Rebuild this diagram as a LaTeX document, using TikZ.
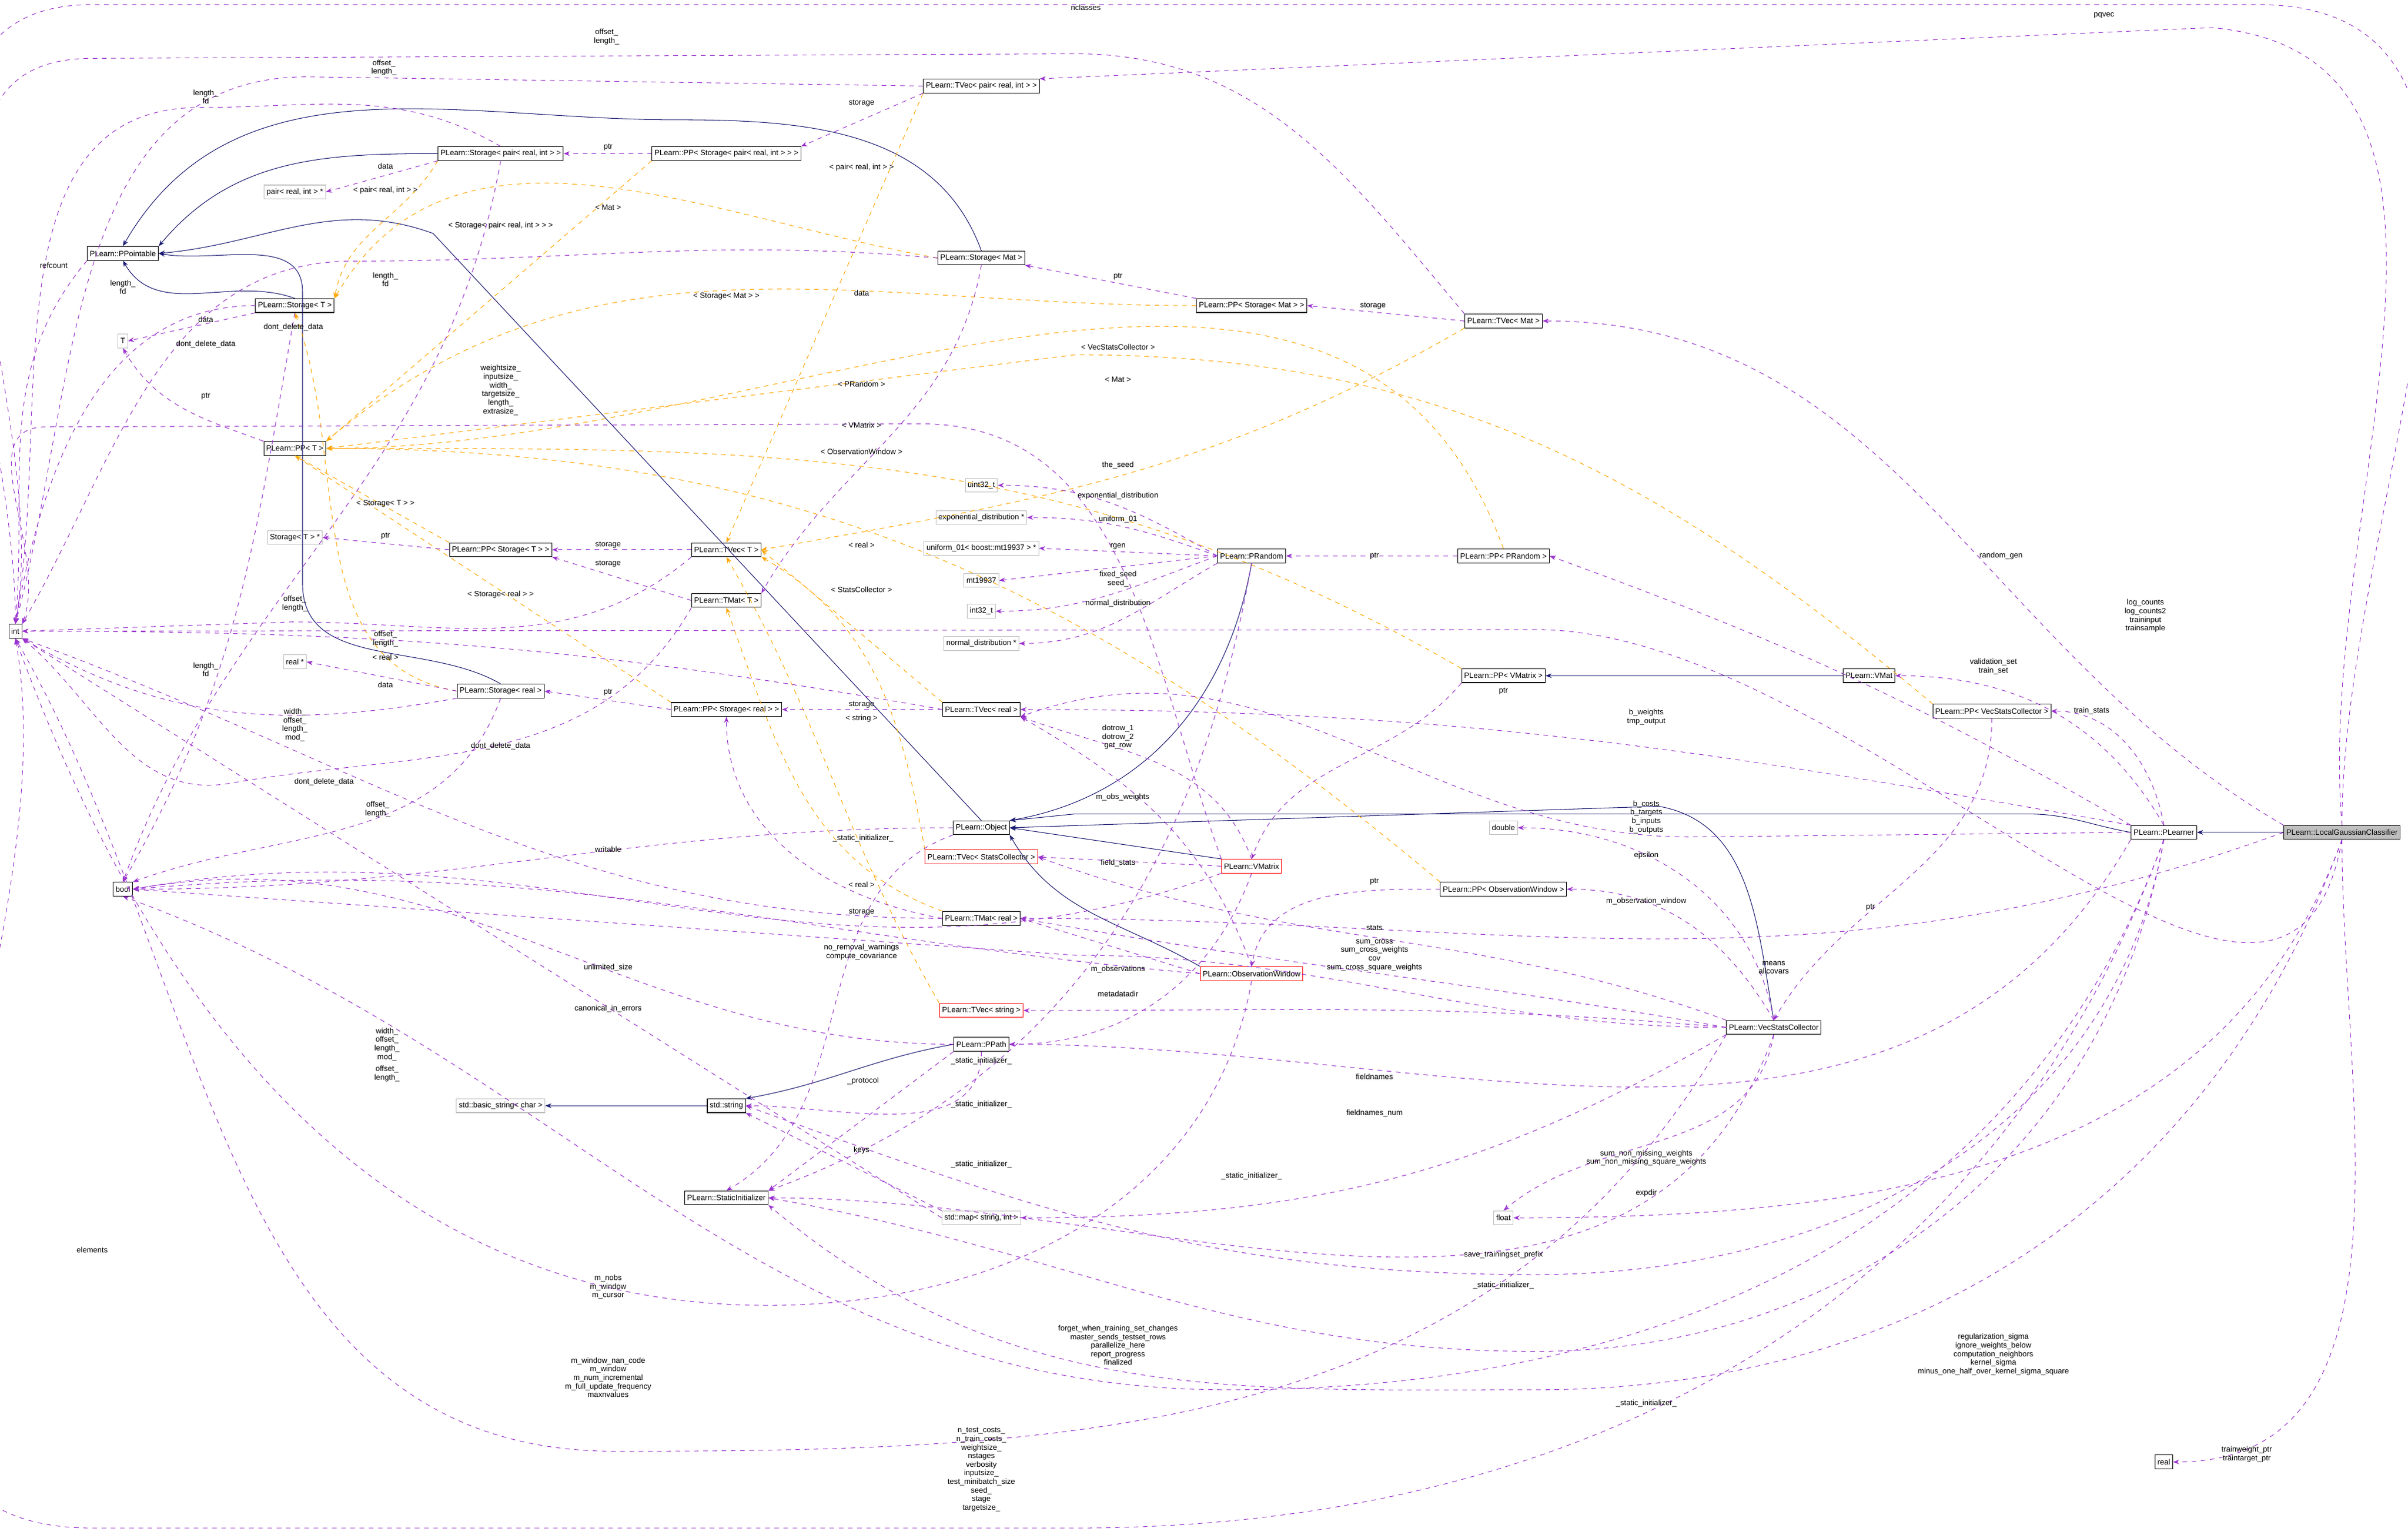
\documentclass[tikz,border=0pt]{standalone}
\usepackage{fontspec}
\setmainfont{Liberation Sans}
\usetikzlibrary{arrows.meta}
\definecolor{pur}{RGB}{154,50,205}
\definecolor{org}{RGB}{255,165,0}
\definecolor{nav}{RGB}{25,25,112}
\definecolor{gry}{RGB}{191,191,191}
\tikzset{
 cls/.style={draw=black,rectangle,inner sep=1.6pt,minimum height=9pt,font=\fontsize{5}{6}\selectfont},
 grn/.style={cls,draw=gry},
 rdn/.style={cls,draw=red},
 lbl/.style={font=\fontsize{5}{5.6}\selectfont,align=center,inner sep=0pt},
 mem/.style={draw=pur,dashed,-{Stealth[length=4pt,width=3pt]}},
 tpl/.style={draw=org,dashed,-{Stealth[length=4pt,width=3pt]}},
 inh/.style={draw=nav,-{Stealth[length=4pt,width=3pt]}},
}
\begin{document}
\begin{tikzpicture}[x=1pt,y=-1pt]
\useasboundingbox (0,0) rectangle (1568,999.5);
% nodes
\node[cls] (int) at (10,411) {int};
\node[cls] (bool) at (80,579) {bool};
\node[grn] (float) at (979,793) {float};
\node[grn] (double) at (979,539) {double};
\node[cls] (real) at (1409,952) {real};
\node[cls] (ppt) at (80,165) {PLearn::PPointable};
\node[cls] (stT) at (192,199) {PLearn::Storage< T >};
\node[grn] (T) at (80,222) {T};
\node[cls] (ppT) at (192,292) {PLearn::PP< T >};
\node[grn] (stTp) at (192,350) {Storage< T > *};
\node[grn] (realp) at (192,431) {real *};
\node[grn] (pairp) at (192,125) {pair< real, int > *};
\node[cls] (stpair) at (326,100) {PLearn::Storage< pair< real, int > >};
\node[cls] (ppstpair) at (473,100) {PLearn::PP< Storage< pair< real, int > > >};
\node[cls] (tvpair) at (639,56) {PLearn::TVec< pair< real, int > >};
\node[cls] (stmat) at (639,168) {PLearn::Storage< Mat >};
\node[cls] (ppstmat) at (815,199) {PLearn::PP< Storage< Mat > >};
\node[cls] (tvmat) at (979,209) {PLearn::TVec< Mat >};
\node[cls] (ppstT) at (326,358) {PLearn::PP< Storage< T > >};
\node[cls] (tvT) at (473,358) {PLearn::TVec< T >};
\node[cls] (tmT) at (473,391) {PLearn::TMat< T >};
\node[cls] (streal) at (326,450) {PLearn::Storage< real >};
\node[cls] (ppstreal) at (473,462) {PLearn::PP< Storage< real > >};
\node[cls] (tvreal) at (639,462) {PLearn::TVec< real >};
\node[grn] (u32) at (639,316) {uint32\_t};
\node[grn] (expd) at (639,337) {exponential\_distribution *};
\node[grn] (unif) at (639,357) {uniform\_01< boost::mt19937 > *};
\node[grn] (mt) at (639,378) {mt19937};
\node[grn] (i32) at (639,398) {int32\_t};
\node[grn] (nd) at (639,419) {normal\_distribution *};
\node[cls] (prand) at (815,362) {PLearn::PRandom};
\node[cls] (pprand) at (979,362) {PLearn::PP< PRandom >};
\node[cls] (ppvm) at (979,440) {PLearn::PP< VMatrix >};
\node[cls] (vmat) at (1217,440) {PLearn::VMat};
\node[cls] (ppvsc) at (1297,463) {PLearn::PP< VecStatsCollector >};
\node[cls] (obj) at (639,539) {PLearn::Object};
\node[rdn] (tvsc) at (639,558) {PLearn::TVec< StatsCollector >};
\node[rdn] (vmx) at (815,564) {PLearn::VMatrix};
\node[cls] (ppow) at (979,579) {PLearn::PP< ObservationWindow >};
\node[cls] (tmreal) at (639,598) {PLearn::TMat< real >};
\node[rdn] (ow) at (815,634) {PLearn::ObservationWindow};
\node[rdn] (tvstr) at (639,658) {PLearn::TVec< string >};
\node[cls] (ppath) at (639,680) {PLearn::PPath};
\node[grn] (bstr) at (326,720) {std::basic\_string< char >};
\node[cls] (str) at (473,720) {std::string};
\node[cls] (si) at (473,780) {PLearn::StaticInitializer};
\node[grn] (map) at (639,793) {std::map< string, int >};
\node[cls] (vsc) at (1155,669) {PLearn::VecStatsCollector};
\node[cls] (pl) at (1409,542) {PLearn::PLearner};
\node[cls,fill=gry] (lgc) at (1525,542) {PLearn::LocalGaussianClassifier};
% inheritance
\draw[inh] (stpair.west) to[out=180,in=50] (ppt.north east);
\draw[inh] (stT.north) to[out=160,in=-60] (ppt.south);
\draw[inh] (stmat.north) to[out=110,in=0] (440,78) to[out=180,in=60] (ppt.north);
\draw[inh] (streal.north) to[out=150,in=-90] (197,380) -- (197,190) to[out=90,in=-10] (ppt.east);
\draw[inh] (obj.north) -- (282,152) to[out=160,in=5] (ppt.east);
\draw[inh] (prand.south) to[out=-100,in=10] (obj.north east);
\draw[inh] (vmx.north west) -- (obj.east);
\draw[inh] (ow.north west) to[out=150,in=-60] (obj.south east);
\draw[inh] (vsc.north) to[out=100,in=-10] (1080,525) -- (obj.east);
\draw[inh] (pl.west) to[out=170,in=0] (1320,530) -- (700,530) -- (obj.north east);
\draw[inh] (lgc.west) -- (pl.east);
\draw[inh] (vmat.west) -- (ppvm.east);
\draw[inh] (str.west) -- (bstr.east);
\draw[inh] (ppath.west) to[out=190,in=10] (str.north east);
% templates
\draw[tpl] (stpair.south west) to[out=-120,in=80] (stT.north east);
\draw[tpl] (stmat.west) to[out=170,in=60] (stT.north east);
\draw[tpl] (streal.west) to[out=170,in=-70] (stT.south);
\draw[tpl] (ppstpair.south west) -- (ppT.north east);
\draw[tpl] (ppstmat.west) to[out=180,in=40] (ppT.north east);
\draw[tpl] (ppstT.north west) -- (ppT.south);
\draw[tpl] (ppstreal.north west) -- (ppT.south);
\draw[tpl] (pprand.north) to[out=110,in=0] (ppT.east);
\draw[tpl] (ppvm.north west) to[out=150,in=0] (ppT.east);
\draw[tpl] (ppow.north west) to[out=140,in=0] (ppT.east);
\draw[tpl] (ppvsc.north west) to[out=140,in=0] (700,231) -- (ppT.east);
\draw[tpl] (tvpair.south west) -- (tvT.north);
\draw[tpl] (tvmat.south west) to[out=-150,in=10] (tvT.east);
\draw[tpl] (tvreal.north west) -- (tvT.east);
\draw[tpl] (tvsc.north west) to[out=100,in=-30] (tvT.south east);
\draw[tpl] (tvstr.north west) to[out=120,in=-60] (tvT.south);
\draw[tpl] (tmreal.north west) to[out=160,in=-70] (tmT.south);
% members
\draw[mem] (lgc.north) to[out=90,in=0] (1470,3) -- (60,3) to[out=180,in=90] (int.north);
\draw[mem] (lgc.north) to[out=95,in=-5] (1440,18) -- (tvpair.north east);
\draw[mem] (tvmat.north west) to[out=130,in=0] (700,35) -- (60,38) to[out=180,in=80] (int.north);
\draw[mem] (tvpair.west) -- (200,50) to[out=180,in=75] (int.north);
\draw[mem] (stpair.north) to[out=150,in=0] (130,70) to[out=180,in=80] (int.north);
\draw[mem] (ppt.south west) to[out=-130,in=85] (int.north);
\draw[mem] (stT.west) to[out=180,in=80] (int.north);
\draw[mem] (stT.south west) -- (T.east);
\draw[mem] (stT.south) to[out=-100,in=60] (bool.north);
\draw[mem] (ppT.north west) to[out=160,in=-60] (T.south);
\draw[mem] (stpair.south west) -- (pairp.east);
\draw[mem] (stpair.south) to[out=-100,in=70] (bool.north);
\draw[mem] (ppstpair.west) -- (stpair.east);
\draw[mem] (tvpair.south west) -- (ppstpair.north east);
\draw[mem] (stmat.west) to[out=175,in=0] (230,170) to[out=180,in=60] (int.north east);
\draw[mem] (stmat.south) to[out=-100,in=60] (tmT.north east);
\draw[mem] (ppstmat.north west) -- (stmat.south east);
\draw[mem] (tvmat.west) -- (ppstmat.east);
\draw[mem] (ppstT.west) -- (stTp.east);
\draw[mem] (tvT.west) -- (ppstT.east);
\draw[mem] (tmT.west) -- (ppstT.south east);
\draw[mem] (tvT.south west) to[out=-140,in=0] (190,405) -- (int.east);
\draw[mem] (tmT.south west) to[out=-120,in=10] (150,510) to[out=190,in=-40] (int.south east);
\draw[mem] (streal.west) -- (realp.east);
\draw[mem] (streal.south west) to[out=190,in=-30] (int.south east);
\draw[mem] (streal.south) to[out=-110,in=20] (bool.north east);
\draw[mem] (ppstreal.west) -- (streal.east);
\draw[mem] (tvreal.west) -- (ppstreal.east);
\draw[mem] (tvreal.west) to[out=170,in=0] (int.east);
\draw[mem] (tmreal.west) to[out=170,in=-90] (ppstreal.south);
\draw[mem] (tmreal.west) to[out=180,in=-20] (int.south east);
\draw[mem] (prand.west) to[out=150,in=0] (u32.east);
\draw[mem] (prand.west) to[out=160,in=0] (expd.east);
\draw[mem] (prand.west) -- (unif.east);
\draw[mem] (prand.west) -- (mt.east);
\draw[mem] (prand.west) to[out=200,in=0] (i32.east);
\draw[mem] (prand.south west) to[out=210,in=0] (nd.east);
\draw[mem] (prand.south) to[out=-100,in=20] (si.north east);
\draw[mem] (pprand.west) -- (prand.east);
\draw[mem] (ppvm.south west) to[out=-130,in=70] (vmx.north);
\draw[mem] (ppow.west) to[out=180,in=80] (ow.north);
\draw[mem] (ppvsc.south) to[out=-90,in=60] (vsc.north);
\draw[mem] (obj.west) to[out=180,in=0] (bool.east);
\draw[mem] (obj.south west) to[out=200,in=30] (si.north);
\draw[mem] (vmx.north west) to[out=110,in=0] (600,276) -- (30,278) to[out=180,in=70] (int.north east);
\draw[mem] (vmx.north) to[out=110,in=-20] (tvreal.south east);
\draw[mem] (vmx.west) -- (tvsc.east);
\draw[mem] (vmx.south) to[out=-110,in=0] (ppath.east);
\draw[mem] (vmx.south west) to[out=200,in=10] (bool.east);
\draw[mem] (ow.west) -- (tmreal.east);
\draw[mem] (ow.north) to[out=110,in=-30] (tvreal.south east);
\draw[mem] (ow.south) to[out=-100,in=0] (500,850) to[out=180,in=-70] (int.south);
\draw[mem] (ow.west) to[out=175,in=5] (bool.east);
\draw[mem] (vsc.west) to[out=170,in=-10] (tmreal.east);
\draw[mem] (vsc.north west) to[out=160,in=-20] (tvsc.east);
\draw[mem] (vsc.north) to[out=120,in=0] (ppow.east);
\draw[mem] (vsc.north) to[out=100,in=0] (double.east);
\draw[mem] (vsc.west) to[out=175,in=0] (tvstr.east);
\draw[mem] (vsc.south west) to[out=-150,in=0] (map.east);
\draw[mem] (vsc.south) to[out=-100,in=40] (float.north);
\draw[mem] (vsc.west) to[out=180,in=0] (700,622) -- (bool.east);
\draw[mem] (vsc.south west) to[out=-120,in=0] (400,945) to[out=180,in=-60] (int.south);
\draw[mem] (vsc.south) to[out=-110,in=0] (si.east);
\draw[mem] (pl.north west) to[out=150,in=-20] (pprand.east);
\draw[mem] (pl.north) to[out=120,in=0] (vmat.east);
\draw[mem] (pl.north) to[out=100,in=0] (ppvsc.east);
\draw[mem] (pl.north west) to[out=170,in=0] (tvreal.east);
\draw[mem] (pl.west) -- (1100,545) to[out=180,in=20] (tvreal.south east);
\draw[mem] (pl.south west) to[out=-120,in=0] (ppath.east);
\draw[mem] (pl.south) to[out=-100,in=0] (1000,830) to[out=180,in=-20] (str.east);
\draw[mem] (pl.south) to[out=-110,in=0] (800,905) to[out=180,in=-20] (bool.south);
\draw[mem] (pl.south) to[out=-110,in=0] (700,995) -- (60,995) to[out=180,in=-80] (int.south);
\draw[mem] (pl.south) to[out=-100,in=0] (1000,880) to[out=180,in=-10] (si.east);
\draw[mem] (ppath.west) to[out=180,in=10] (bool.east);
\draw[mem] (ppath.south west) -- (si.north east);
\draw[mem] (ppath.south) to[out=-90,in=0] (str.east);
\draw[mem] (map.north west) -- (str.south east);
\draw[mem] (map.west) -- (int.south east);
\draw[mem] (lgc.south) to[out=-100,in=0] (1000,410) -- (int.east);
\draw[mem] (lgc.north west) to[out=150,in=0] (tvmat.east);
\draw[mem] (lgc.west) to[out=200,in=0] (tmreal.east);
\draw[mem] (lgc.south) to[out=-110,in=0] (float.east);
\draw[mem] (lgc.south) to[out=-90,in=0] (real.east);
\draw[mem] (lgc.south) to[out=-110,in=0] (1000,905) to[out=180,in=-40] (si.south east);
% labels
\node[lbl] (a1) at (707,5) {nclasses};
\node[lbl] (a2) at (1370,10) {pqvec};
\node[lbl] (a3) at (395,24) {offset\_\\length\_};
\node[lbl] (a4) at (250,44) {offset\_\\length\_};
\node[lbl] (a5) at (134,63) {length\_\\fd};
\node[lbl] (a6) at (561,67) {storage};
\node[lbl] (a7) at (396,96) {ptr};
\node[lbl] (a8) at (251,108) {data};
\node[lbl] (a9) at (251,124) {< pair< real, int > >};
\node[lbl] (a10) at (561,109) {< pair< real, int > >};
\node[lbl] (a11) at (396,135) {< Mat >};
\node[lbl] (a12) at (326,147) {< Storage< pair< real, int > > >};
\node[lbl] (a13) at (35,173) {refcount};
\node[lbl] (a14) at (80,187) {length\_\\fd};
\node[lbl] (a15) at (134,208) {data};
\node[lbl] (a16) at (191,213) {dont\_delete\_data};
\node[lbl] (a17) at (134,224) {dont\_delete\_data};
\node[lbl] (a18) at (251,182) {length\_\\fd};
\node[lbl] (a19) at (473,193) {< Storage< Mat > >};
\node[lbl] (a20) at (561,191) {data};
\node[lbl] (a21) at (728,180) {ptr};
\node[lbl] (a22) at (894,199) {storage};
\node[lbl] (a23) at (728,226) {< VecStatsCollector >};
\node[lbl] (a24) at (728,247) {< Mat >};
\node[lbl] (a25) at (326,254) {weightsize\_\\inputsize\_\\width\_\\targetsize\_\\length\_\\extrasize\_};
\node[lbl] (a26) at (134,258) {ptr};
\node[lbl] (a27) at (561,250) {< PRandom >};
\node[lbl] (a28) at (561,277) {< VMatrix >};
\node[lbl] (a29) at (561,294) {< ObservationWindow >};
\node[lbl] (a30) at (251,328) {< Storage< T > >};
\node[lbl] (a31) at (251,349) {ptr};
\node[lbl] (a32) at (396,355) {storage};
\node[lbl] (a33) at (396,367) {storage};
\node[lbl] (a34) at (326,387) {< Storage< real > >};
\node[lbl] (a35) at (192,393) {offset\_\\length\_};
\node[lbl] (a36) at (251,416) {offset\_\\length\_};
\node[lbl] (a37) at (251,428) {< real >};
\node[lbl] (a38) at (561,355) {< real >};
\node[lbl] (a39) at (561,384) {< StatsCollector >};
\node[lbl] (a40) at (134,436) {length\_\\fd};
\node[lbl] (a41) at (251,446) {data};
\node[lbl] (a42) at (396,451) {ptr};
\node[lbl] (a43) at (561,459) {storage};
\node[lbl] (a44) at (561,468) {< string >};
\node[lbl] (a45) at (192,472) {width\_\\offset\_\\length\_\\mod\_};
\node[lbl] (a46) at (326,486) {dont\_delete\_data};
\node[lbl] (a47) at (728,303) {the\_seed};
\node[lbl] (a48) at (728,323) {exponential\_distribution};
\node[lbl] (a49) at (728,338) {uniform\_01};
\node[lbl] (a50) at (728,356) {rgen};
\node[lbl] (a51) at (728,377) {fixed\_seed\\seed\_};
\node[lbl] (a52) at (728,393) {normal\_distribution};
\node[lbl] (a53) at (895,362) {ptr};
\node[lbl] (a54) at (1303,362) {random\_gen};
\node[lbl] (a55) at (1397,401) {log\_counts\\log\_counts2\\traininput\\trainsample};
\node[lbl] (a56) at (1298,434) {validation\_set\\train\_set};
\node[lbl] (a57) at (1072,467) {b\_weights\\tmp\_output};
\node[lbl] (a58) at (728,480) {dotrow\_1\\dotrow\_2\\get\_row};
\node[lbl] (a59) at (1362,463) {train\_stats};
\node[lbl] (a60) at (979,450) {ptr};
\node[lbl] (a61) at (211,509) {dont\_delete\_data};
\node[lbl] (a62) at (246,527) {offset\_\\length\_};
\node[lbl] (a63) at (731,519) {m\_obs\_weights};
\node[lbl] (a64) at (1072,532) {b\_costs\\b\_targets\\b\_inputs\\b\_outputs};
\node[lbl] (a65) at (1072,557) {epsilon};
\node[lbl] (a66) at (562,546) {\_static\_initializer\_};
\node[lbl] (a67) at (396,553) {writable};
\node[lbl] (a68) at (728,562) {field\_stats};
\node[lbl] (a69) at (895,574) {ptr};
\node[lbl] (a69b) at (561,576) {< real >};
\node[lbl] (a69c) at (561,594) {storage};
\node[lbl] (a70) at (1072,587) {m\_observation\_window};
\node[lbl] (a71) at (895,604) {stats};
\node[lbl] (a72) at (895,622) {sum\_cross\\sum\_cross\_weights\\cov\\sum\_cross\_square\_weights};
\node[lbl] (a73) at (1155,630) {means\\allcovars};
\node[lbl] (a74) at (561,620) {no\_removal\_warnings\\compute\_covariance};
\node[lbl] (a75) at (396,630) {unlimited\_size};
\node[lbl] (a76) at (728,631) {m\_observations};
\node[lbl] (a77) at (728,647) {metadatadir};
\node[lbl] (a78) at (396,657) {canonical\_in\_errors};
\node[lbl] (a79) at (252,680) {width\_\\offset\_\\length\_\\mod\_};
\node[lbl] (a80) at (252,699) {offset\_\\length\_};
\node[lbl] (a81) at (639,691) {\_static\_initializer\_};
\node[lbl] (a82) at (562,704) {\_protocol};
\node[lbl] (a83) at (639,719) {\_static\_initializer\_};
\node[lbl] (a84) at (895,701) {fieldnames};
\node[lbl] (a85) at (895,725) {fieldnames\_num};
\node[lbl] (a86) at (561,749) {keys};
\node[lbl] (a87) at (639,758) {\_static\_initializer\_};
\node[lbl] (a88) at (815,766) {\_static\_initializer\_};
\node[lbl] (a89) at (1072,754) {sum\_non\_missing\_weights\\sum\_non\_missing\_square\_weights};
\node[lbl] (a90) at (1072,777) {expdir};
\node[lbl] (a91) at (60,814) {elements};
\node[lbl] (a92) at (979,817) {save\_trainingset\_prefix};
\node[lbl] (a93) at (979,837) {\_static\_initializer\_};
\node[lbl] (a94) at (396,838) {m\_nobs\\m\_window\\m\_cursor};
\node[lbl] (a95) at (728,876) {forget\_when\_training\_set\_changes\\master\_sends\_testset\_rows\\parallelize\_here\\report\_progress\\finalized};
\node[lbl] (a96) at (1072,914) {\_static\_initializer\_};
\node[lbl] (a97) at (1298,882) {regularization\_sigma\\ignore\_weights\_below\\computation\_neighbors\\kernel\_sigma\\minus\_one\_half\_over\_kernel\_sigma\_square};
\node[lbl] (a98) at (396,897) {m\_window\_nan\_code\\m\_window\\m\_num\_incremental\\m\_full\_update\_frequency\\maxnvalues};
\node[lbl] (a99) at (639,957) {n\_test\_costs\_\\n\_train\_costs\_\\weightsize\_\\nstages\\verbosity\\inputsize\_\\test\_minibatch\_size\\seed\_\\stage\\targetsize\_};
\node[lbl] (a100) at (1463,947) {trainweight\_ptr\\traintarget\_ptr};
\node[lbl] (a101) at (1218,591) {ptr};
\end{tikzpicture}
\end{document}
